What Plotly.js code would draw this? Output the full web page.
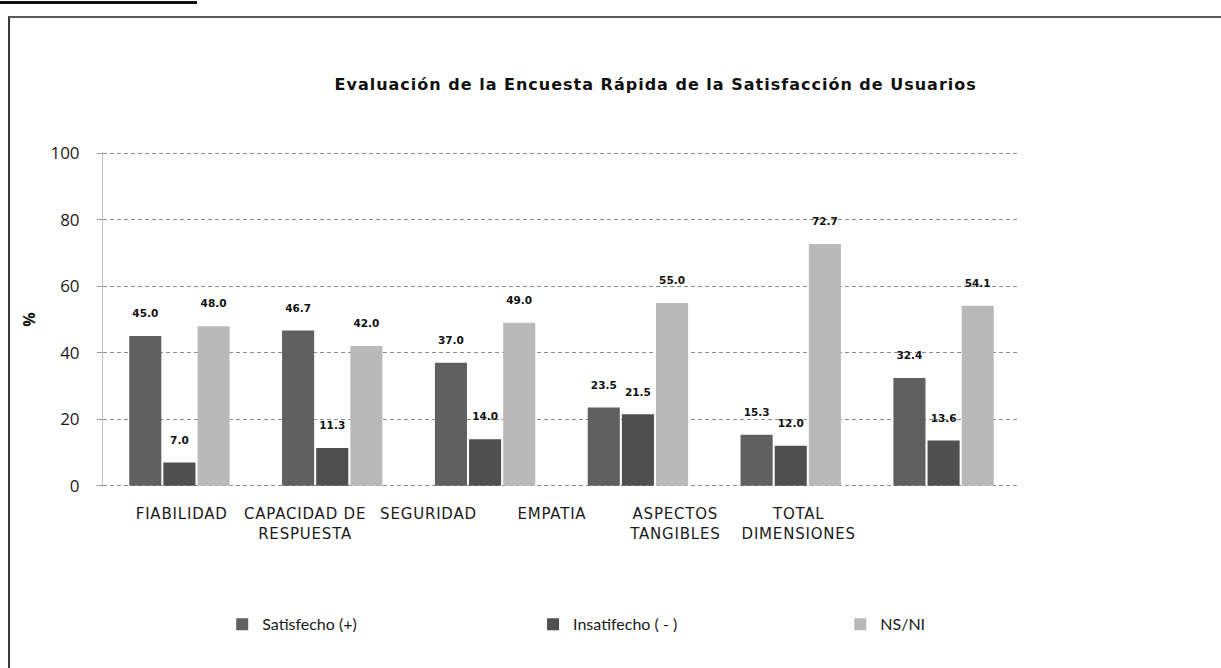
<!DOCTYPE html>
<html><head><meta charset="utf-8">
<script src="https://cdn.plot.ly/plotly-3.0.1.min.js"></script>
<style>
html,body{margin:0;padding:0;background:#fff;}
#wrap{position:relative;width:1221px;height:668px;overflow:hidden;}
#chart{position:absolute;left:0;top:0;width:1221px;height:668px;}
#frame{position:absolute;left:8px;top:16px;width:1240px;height:700px;border-left:2px solid #3a3a3a;border-top:2px solid #5a5a5a;pointer-events:none;}
#topline{position:absolute;left:0;top:1px;width:197px;height:3px;background:#111;pointer-events:none;}
#chart .x2tick text{letter-spacing:0.8px;}
#chart .gtitle{letter-spacing:1px;}
</style></head>
<body><div id="wrap"><div id="chart"></div><div id="frame"></div><div id="topline"></div></div>
<script>
const categories = ["FIABILIDAD", "CAPACIDAD DE<br>RESPUESTA", "SEGURIDAD", "EMPATIA", "ASPECTOS<br>TANGIBLES", "TOTAL<br>DIMENSIONES"];
const satisfecho = [45.0, 46.7, 37.0, 23.5, 15.3, 32.4];
const insatisfecho = [7.0, 11.3, 14.0, 21.5, 12.0, 13.6];
const nsni = [48.0, 42.0, 49.0, 55.0, 72.7, 54.1];
const seriesNames = ["Satisfecho (+)", "Insatifecho ( - )", "NS/NI"];
const yTicks = [0, 20, 40, 60, 80, 100];

const DV = "'DejaVu Sans', sans-serif";
const OS = "'Open Sans', sans-serif";
const LT = "Lato, sans-serif";
const colors = ["#606060", "#4f4f4f", "#b9b9b9"];
const series = [satisfecho, insatisfecho, nsni];
const legendIds = ["legend", "legend2", "legend3"];

const traces = series.map((vals, i) => ({
  type: "bar", x: categories, y: vals, name: seriesNames[i], legend: legendIds[i],
  marker: {color: colors[i], line: {width: 0}},
  text: vals.map(v => v.toFixed(1) + "<br> "), textposition: "outside",
  textfont: {family: DV, size: 10.5, color: "#111", weight: "bold"},
  cliponaxis: false, hoverinfo: "skip"
}));
// invisible trace to carry the (compressed) category label axis
traces.push({type: "scatter", mode: "markers", x: categories, y: categories.map(() => 0),
  xaxis: "x2", yaxis: "y2", marker: {opacity: 0}, showlegend: false, hoverinfo: "skip"});

function leg(x) {
  return {orientation: "h", x: x, xanchor: "left", y: -0.41, yanchor: "middle", itemwidth: 30,
    font: {family: LT, size: 16, color: "#1a1a1a"}, bgcolor: "rgba(0,0,0,0)"};
}

const layout = {
  width: 1221, height: 668,
  margin: {l: 103, r: 201, t: 152, b: 181},
  paper_bgcolor: "#fff", plot_bgcolor: "rgba(0,0,0,0)",
  font: {family: DV, color: "#1a1a1a"},
  title: {text: "<b>Evaluación de la Encuesta Rápida de la Satisfacción de Usuarios</b>",
    font: {family: DV, size: 16, color: "#111"}, x: 0.537, xanchor: "center", y: 0.874, yanchor: "middle"},
  barmode: "group", bargap: 0.33, bargroupgap: 0.06,
  xaxis: {type: "category", showticklabels: false, ticks: "", showgrid: false, zeroline: false, showline: false},
  xaxis2: {type: "category", range: [-0.5, 5.5], domain: [0.0185, 0.826], anchor: "y2", showgrid: false, zeroline: false, showline: false,
    ticks: "", tickfont: {family: DV, size: 15, color: "#1a1a1a"}, ticklabelstandoff: 16},
  yaxis: {range: [-0.4, 100.4], tickvals: yTicks, ticktext: yTicks.map(String), showgrid: true, gridcolor: "#8c8c8c",
    griddash: "4px,3px", gridwidth: 1, zeroline: false, showline: true, linecolor: "#c0c0c0", linewidth: 1,
    ticks: "outside", ticklen: 5, tickcolor: "#999",
    tickfont: {family: OS, size: 17, color: "#1a1a1a"}, ticklabelstandoff: 14,
    title: {text: "<b>%</b>", font: {family: OS, size: 16, color: "#111"}, standoff: 10}},
  yaxis2: {domain: [0, 1], range: [0, 100], visible: false},
  legend: leg(0.130),
  legend2: leg(0.469),
  legend3: leg(0.804),
  showlegend: true
};
Plotly.newPlot("chart", traces, layout, {displayModeBar: false, staticPlot: true});
</script></body></html>
